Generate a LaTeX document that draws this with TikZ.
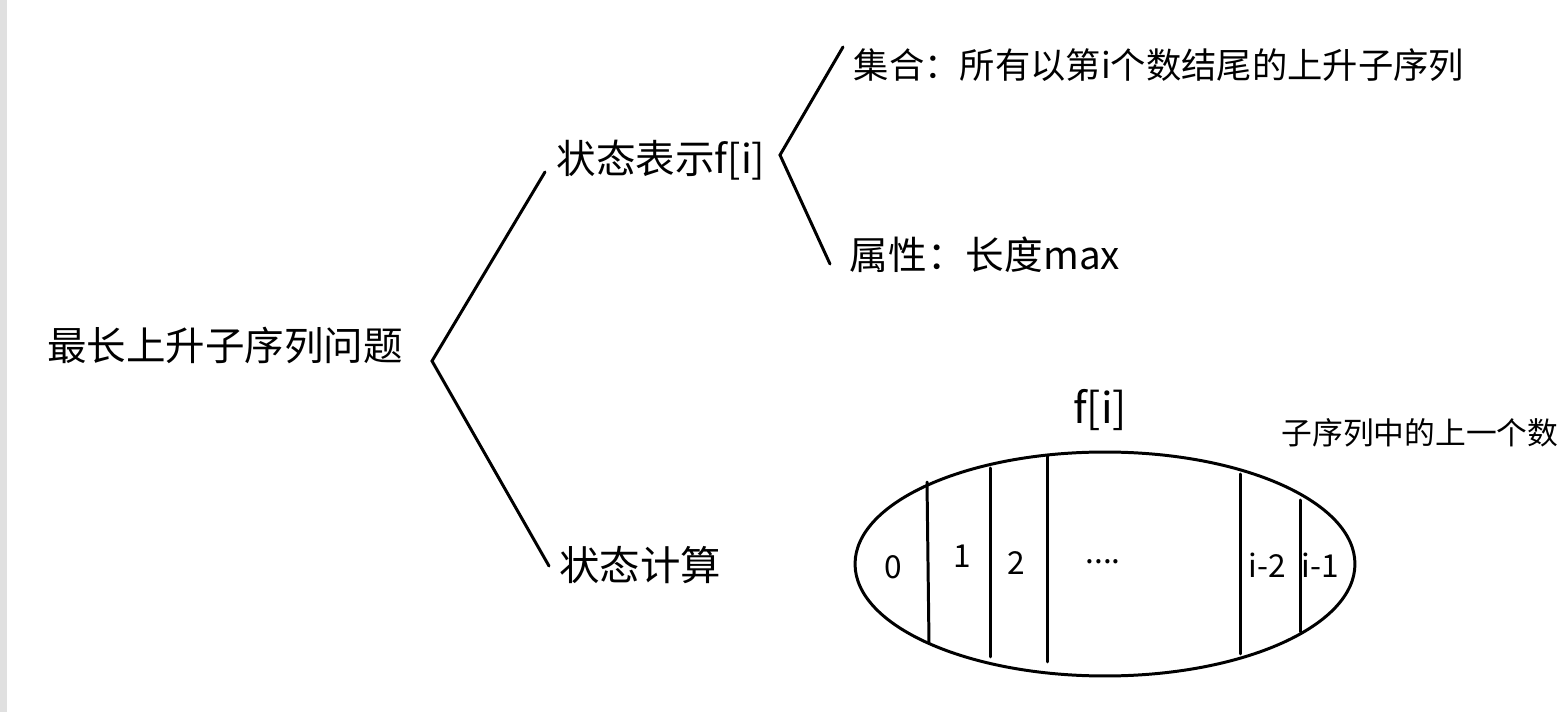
\documentclass[tikz,border=0pt]{standalone}
\usepackage{fontspec}
\usetikzlibrary{shapes.geometric}
\newfontfamily\cjk{Noto Sans CJK SC}
\tikzset{
  ink/.style={line width=1.7pt, black, line cap=round},
  lbl/.style={inner sep=0pt, font=\cjk},
}
\newcommand{\fs}[1]{\fontsize{#1}{#1}\selectfont}
\begin{document}
\begin{tikzpicture}[x=0.02cm, y=-0.02cm]
\useasboundingbox (0,0) rectangle (1566,712);
\fill[white] (0,0) rectangle (1566,712);
\fill[black!12] (0,0) rectangle (7,712);

% texts
\node[lbl] (root) at (225,345) {\fs{22.5pt}最长上升子序列问题};
\node[lbl] (rep) at (661,160) {\fs{22.5pt}状态表示f[i]};
\node[lbl] (calc) at (640,565) {\fs{23pt}状态计算};
\node[lbl] (set) at (1159,65) {\fs{20.1pt}集合：所有以第i个数结尾的上升子序列};
\node[lbl] (attr) at (985,255) {\fs{22pt}属性：长度max};
\node[lbl] (fi) at (1100,410) {\fs{24pt}f[i]};
\node[lbl] (prev) at (1420,433) {\fs{17.5pt}子序列中的上一个数};

% bracket 1
\coordinate (v1) at (432,361);
\coordinate (a1) at (545,172);
\coordinate (b1) at (549,566);
\draw[ink] (a1) -- (v1) -- (b1);

% bracket 2
\coordinate (v2) at (780,155);
\coordinate (a2) at (843,47);
\coordinate (b2) at (830,264);
\draw[ink] (a2) -- (v2) -- (b2);

% ellipse set
\node[draw, ellipse, minimum width=10cm, minimum height=4.48cm, line width=1.7pt, inner sep=0pt] (ell) at (1105,564) {};
\coordinate (t0) at (927,482); \coordinate (d0) at (929,643);
\coordinate (t1) at (990,468); \coordinate (d1) at (990,657);
\coordinate (t2) at (1047,456); \coordinate (d2) at (1047,662);
\coordinate (t3) at (1240,474); \coordinate (d3) at (1240,654);
\coordinate (t4) at (1300,500); \coordinate (d4) at (1300,632);
\draw[ink] (t0) -- (d0);
\draw[ink] (t1) -- (d1);
\draw[ink] (t2) -- (d2);
\draw[ink] (t3) -- (d3);
\draw[ink] (t4) -- (d4);

\node[lbl] (c0) at (893,567) {\fs{18pt}0};
\node[lbl] (c1) at (962,556) {\fs{18pt}1};
\node[lbl] (c2) at (1016,563) {\fs{18pt}2};
\node[lbl] (c3) at (1103,562) {\fs{18pt}....};
\node[lbl] (c4) at (1267,565) {\fs{18pt}i-2};
\node[lbl] (c5) at (1320,565) {\fs{18pt}i-1};
\end{tikzpicture}
\end{document}
